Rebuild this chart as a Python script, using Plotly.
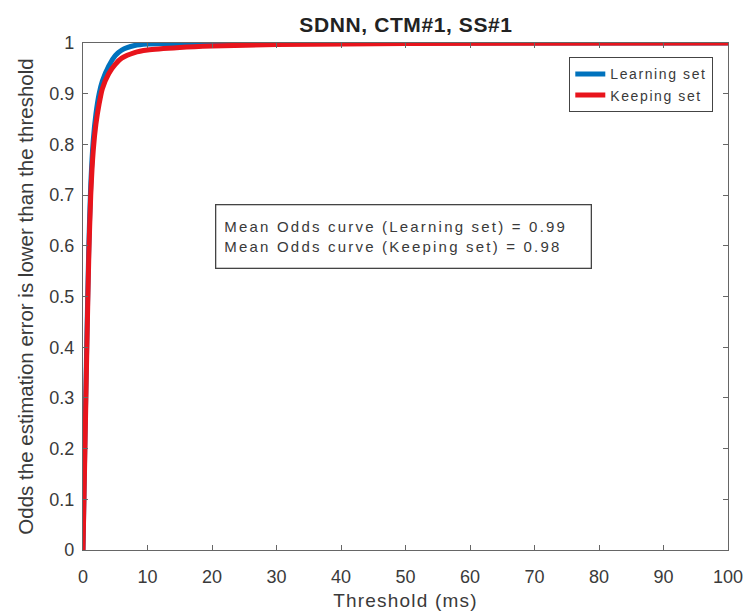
import plotly.graph_objects as go

# Threshold (ms) and odds that the estimation error is below it
learning_threshold = [0, 0.3, 0.6, 0.9, 1.2, 1.6, 2, 2.5, 3, 4, 5, 6, 8, 10, 15, 20, 30, 50, 100]
learning_odds = [0, 0.22, 0.42, 0.6, 0.72, 0.81, 0.86, 0.9, 0.925, 0.955, 0.975, 0.986, 0.995,
                 0.998, 0.999, 1.0, 1.0, 1.0, 1.0]

keeping_threshold = [0, 0.3, 0.6, 0.9, 1.2, 1.6, 2, 2.5, 3, 4, 5, 6, 8, 10, 15, 20, 30, 50, 100]
keeping_odds = [0, 0.2, 0.4, 0.58, 0.7, 0.79, 0.84, 0.88, 0.91, 0.94, 0.958, 0.97, 0.981,
                0.986, 0.991, 0.994, 0.997, 0.999, 1.0]

mean_learning = 0.99
mean_keeping = 0.98

x_ticks = list(range(0, 101, 10))
y_ticks = [round(v * 0.1, 1) for v in range(11)]
y_tick_labels = ["0", "0.1", "0.2", "0.3", "0.4", "0.5", "0.6", "0.7", "0.8", "0.9", "1"]

font_family = "Liberation Sans, Arial, sans-serif"
ink = "#3a3a3a"


def spaced(text, px):
    """Wrap text in a span with extra letter spacing."""
    return f"<span style='letter-spacing:{px}px'>{text}</span>"


fig = go.Figure()
fig.add_trace(go.Scatter(x=learning_threshold, y=learning_odds, mode="lines",
                         name=spaced("Learning set", 1.6),
                         line=dict(color="#0072BD", width=5, shape="spline", smoothing=0.6)))
fig.add_trace(go.Scatter(x=keeping_threshold, y=keeping_odds, mode="lines",
                         name=spaced("Keeping set", 1.6),
                         line=dict(color="#E8141C", width=5, shape="spline", smoothing=0.6)))

axis_common = dict(showline=True, linecolor="#666666", linewidth=1.3, mirror="ticks",
                   ticks="inside", ticklen=5, tickcolor="#666666", showgrid=False, zeroline=False,
                   tickfont=dict(family=font_family, size=18, color=ink))

fig.update_xaxes(range=[0, 100], tickvals=x_ticks, ticklabelstandoff=10,
                 title=dict(text=spaced("Threshold (ms)", 1.2),
                            font=dict(family=font_family, size=19, color=ink), standoff=7),
                 **axis_common)
fig.update_yaxes(range=[0, 1], tickvals=y_ticks, ticktext=y_tick_labels, ticklabelstandoff=4,
                 title=dict(text="Odds the estimation error is lower than the threshold",
                            font=dict(family=font_family, size=20.5, color=ink), standoff=10),
                 **axis_common)

fig.add_annotation(
    xref="paper", yref="paper", x=(215 - 83) / 645, y=1 - (204 - 43) / 507, xanchor="left", yanchor="top",
    text=spaced(f"Mean Odds curve (Learning set) = {mean_learning:.2f}<br>"
                f"Mean Odds curve (Keeping set) = {mean_keeping:.2f}", 2.2),
    align="left", valign="middle", width=358, height=46, showarrow=False,
    font=dict(family=font_family, size=15, color=ink),
    bordercolor="#444444", borderwidth=1.3, borderpad=8, bgcolor="white",
)

fig.update_layout(
    width=746, height=615,
    margin=dict(l=83, r=18, t=43, b=65, autoexpand=False),
    paper_bgcolor="white", plot_bgcolor="white",
    title=dict(text=f"<b>{spaced('SDNN, CTM#1, SS#1', 0.6)}</b>", x=406 / 746, xanchor="center",
               y=1 - 25 / 615, yanchor="middle",
               font=dict(family=font_family, size=21, color="#222222")),
    legend=dict(x=(713 - 83) / 645, y=1 - (57 - 43) / 507, xanchor="right", yanchor="top",
                bordercolor="#444444", borderwidth=1.3, bgcolor="white",
                font=dict(family=font_family, size=14, color=ink), tracegroupgap=0),
    showlegend=True,
)

fig.write_html("out.html")
